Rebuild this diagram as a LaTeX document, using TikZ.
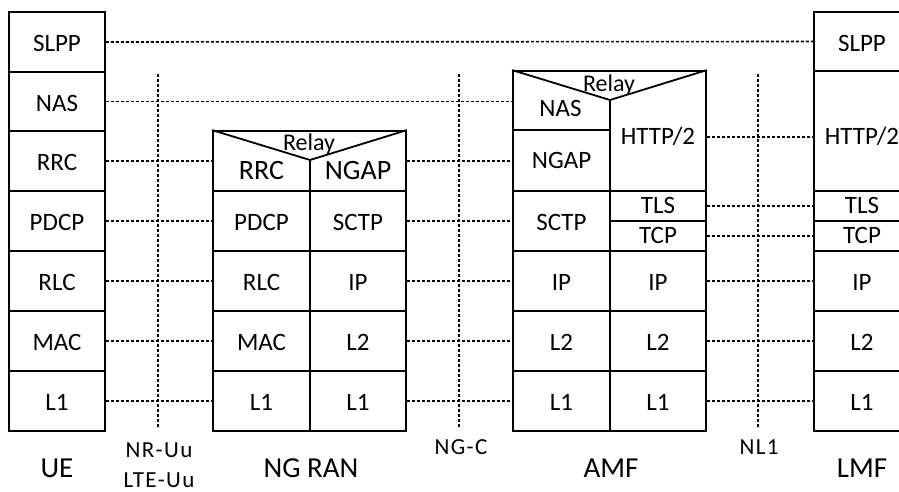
\documentclass[tikz,border=0pt]{standalone}
\usepackage{fontspec}
\setmainfont{Carlito}
\newfontfamily\spacedfont{Carlito}[LetterSpace=6]
\newcommand\mkcell[7][]{%
  \node[cell,#1,minimum width={#5-#3},minimum height={#6-#4}] (#2) at ({(#3+#5)/2},{(#4+#6)/2}) {#7};}
\begin{document}
\begin{tikzpicture}[x=1pt,y=-1pt,
  cell/.style={draw,line width=1.8pt,inner sep=0pt,font=\fontsize{25}{29}\selectfont,text height=19.8pt,text depth=0pt},
  ctr/.style={text height=15.8pt},
  ghost/.style={draw=none,text height=15.8pt},
  big/.style={font=\fontsize{28}{32}\selectfont,text height=17.7pt,text depth=0pt},
  boxline/.style={line width=1.8pt},
  conn/.style={line width=1.6pt,dash pattern=on 3pt off 2pt},
  iface/.style={line width=1.6pt,dash pattern=on 3pt off 2pt},
  relay/.style={inner sep=0pt,font=\fontsize{24}{28}\selectfont,text height=15.2pt,text depth=0pt},
  lbl/.style={inner sep=0pt,font=\fontsize{23}{27}\spacedfont,text height=14.5pt,text depth=0pt},
  ttl/.style={inner sep=0pt,font=\fontsize{29}{33}\selectfont,text height=18.3pt,text depth=0pt}]
\useasboundingbox (0,0) rectangle (899,492);
% UE
\mkcell{ueSLPP}{9}{12}{105}{72}{SLPP}
\mkcell{ueNAS}{9}{72}{105}{131}{NAS}
\mkcell{ueRRC}{9}{131}{105}{191}{RRC}
\mkcell{uePDCP}{9}{191}{105}{251}{PDCP}
\mkcell{ueRLC}{9}{251}{105}{311}{RLC}
\mkcell{ueMAC}{9}{311}{105}{371}{MAC}
\mkcell{ueL1}{9}{371}{105}{431}{L1}
% NG RAN
\mkcell{ranTop}{213}{131}{406}{191}{}
\mkcell[ghost,big]{ranRRC}{213}{151}{310}{191}{RRC}
\mkcell[ghost,big]{ranNGAP}{310}{151}{406}{191}{NGAP}
\node[relay] (ranRelay) at (309,143) {Relay};
\coordinate (ranApex) at (310,160);
\draw[boxline,line join=miter] (ranTop.north west) -- (ranApex) -- (ranTop.north east);
\draw[boxline] (ranApex) -- (ranApex |- ranTop.south);
\mkcell{ranPDCP}{213}{191}{310}{251}{PDCP}
\mkcell{ranSCTP}{310}{191}{406}{251}{SCTP}
\mkcell{ranRLC}{213}{251}{310}{311}{RLC}
\mkcell{ranIP}{310}{251}{406}{311}{IP}
\mkcell{ranMAC}{213}{311}{310}{371}{MAC}
\mkcell{ranLtwo}{310}{311}{406}{371}{L2}
\mkcell{ranLoneA}{213}{371}{310}{431}{L1}
\mkcell{ranLoneB}{310}{371}{406}{431}{L1}
% AMF
\mkcell{amfTop}{513}{71}{706}{191}{}
\mkcell[ghost]{amfNAS}{513}{87}{608}{131}{NAS}
\mkcell[ghost]{amfNGAP}{513}{131}{610}{191}{NGAP}
\mkcell[ghost]{amfHTTP}{610}{83}{706}{191}{HTTP/2}
\node[relay] (amfRelay) at (609,84) {Relay};
\coordinate (amfApex) at (610,100);
\draw[boxline,line join=miter] (amfTop.north west) -- (amfApex) -- (amfTop.north east);
\draw[boxline] (amfApex) -- (amfApex |- amfTop.south);
\draw[boxline] (amfNGAP.north west) -- (amfNGAP.north east);
\mkcell{amfSCTP}{513}{191}{610}{251}{SCTP}
\mkcell[ctr]{amfTLS}{610}{191}{706}{221}{TLS}
\mkcell[ctr]{amfTCP}{610}{221}{706}{251}{TCP}
\mkcell{amfIPa}{513}{251}{610}{311}{IP}
\mkcell{amfIPb}{610}{251}{706}{311}{IP}
\mkcell{amfLtwoA}{513}{311}{610}{371}{L2}
\mkcell{amfLtwoB}{610}{311}{706}{371}{L2}
\mkcell{amfLoneA}{513}{371}{610}{431}{L1}
\mkcell{amfLoneB}{610}{371}{706}{431}{L1}
% LMF
\mkcell{lmfSLPP}{814}{12}{910}{71}{SLPP}
\mkcell{lmfHTTP}{814}{71}{910}{191}{\raisebox{-4pt}{HTTP/2}}
\mkcell[ctr]{lmfTLS}{814}{191}{910}{221}{TLS}
\mkcell[ctr]{lmfTCP}{814}{221}{910}{251}{TCP}
\mkcell{lmfIP}{814}{251}{910}{311}{IP}
\mkcell{lmfLtwo}{814}{311}{910}{371}{L2}
\mkcell{lmfLone}{814}{371}{910}{431}{L1}
% peer connectors
\draw[conn] (ueSLPP.east) -- (lmfSLPP.west);
\draw[conn] (ueNAS.east) -- (ueNAS.east -| amfNAS.west);
\draw[conn] (ueRRC.east) -- (ueRRC.east -| ranRRC.west);
\draw[conn] (uePDCP.east) -- (ranPDCP.west);
\draw[conn] (ueRLC.east) -- (ranRLC.west);
\draw[conn] (ueMAC.east) -- (ranMAC.west);
\draw[conn] (ueL1.east) -- (ranLoneA.west);
\draw[conn] (ranTop.east) -- (amfNGAP.west);
\draw[conn] (ranSCTP.east) -- (amfSCTP.west);
\draw[conn] (ranIP.east) -- (amfIPa.west);
\draw[conn] (ranLtwo.east) -- (amfLtwoA.west);
\draw[conn] (ranLoneB.east) -- (amfLoneA.west);
\draw[conn] (amfHTTP.east) -- (amfHTTP.east -| lmfHTTP.west);
\draw[conn] (amfTLS.east) -- (lmfTLS.west);
\draw[conn] (amfTCP.east) -- (lmfTCP.west);
\draw[conn] (amfIPb.east) -- (lmfIP.west);
\draw[conn] (amfLtwoB.east) -- (lmfLtwo.west);
\draw[conn] (amfLoneB.east) -- (lmfLone.west);
% interfaces
\coordinate (uuTop) at (158,74); \coordinate (uuBot) at (158,428);
\coordinate (ngcTop) at (459,74); \coordinate (ngcBot) at (459,428);
\coordinate (nlTop) at (758,74); \coordinate (nlBot) at (758,428);
\draw[iface] (uuTop) -- (uuBot);
\draw[iface] (ngcTop) -- (ngcBot);
\draw[iface] (nlTop) -- (nlBot);
% labels
\node[ttl] (ueName) at (57,468) {UE};
\node[lbl] (nrUu) at (159,450) {NR-Uu};
\node[lbl] (lteUu) at (159,480) {LTE-Uu};
\node[ttl] (ranName) at (311,468) {NG RAN};
\node[lbl] (ngcName) at (461,447) {NG-C};
\node[ttl] (amfName) at (611,468) {AMF};
\node[lbl] (nlName) at (759,447) {NL1};
\node[ttl] (lmfName) at (862,468) {LMF};
\end{tikzpicture}
\end{document}
